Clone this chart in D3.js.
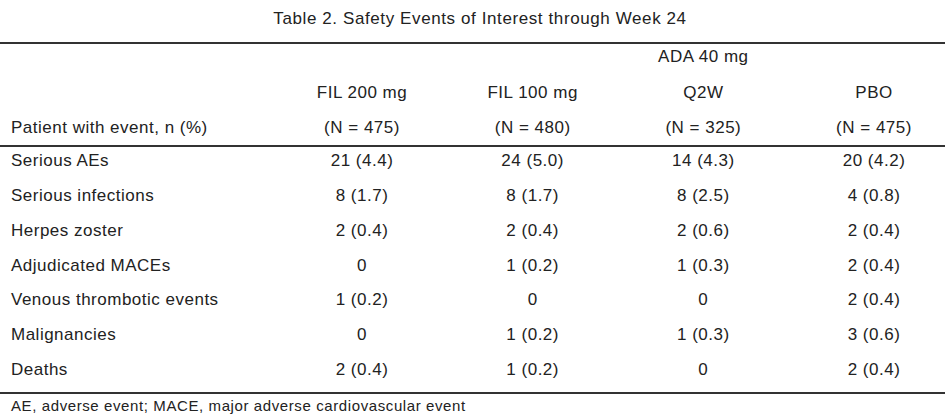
<!DOCTYPE html>
<html><head><meta charset="utf-8">
<script src="https://cdn.jsdelivr.net/npm/d3@7"></script>
<style>body{margin:0;background:#fff}text{font-family:"Liberation Sans",Arial,sans-serif;fill:#222}</style>
</head><body><svg id="chart" width="945" height="420"></svg>
<script>
// table data
var columns = ["FIL 200 mg", "FIL 100 mg", "Q2W", "PBO"];
var columnTop = ["", "", "ADA 40 mg", ""];
var columnN = ["(N = 475)", "(N = 480)", "(N = 325)", "(N = 475)"];
var events = ["Serious AEs", "Serious infections", "Herpes zoster", "Adjudicated MACEs",
  "Venous thrombotic events", "Malignancies", "Deaths"];
var fil200 = ["21 (4.4)", "8 (1.7)", "2 (0.4)", "0", "1 (0.2)", "0", "2 (0.4)"];
var fil100 = ["24 (5.0)", "8 (1.7)", "2 (0.4)", "1 (0.2)", "0", "1 (0.2)", "1 (0.2)"];
var ada40 = ["14 (4.3)", "8 (2.5)", "2 (0.6)", "1 (0.3)", "0", "1 (0.3)", "0"];
var pbo = ["20 (4.2)", "4 (0.8)", "2 (0.4)", "2 (0.4)", "2 (0.4)", "3 (0.6)", "2 (0.4)"];

var svg = d3.select("#chart");
var x = d3.scalePoint().domain(columns).range([362, 874]);
var y = d3.scalePoint().domain(events).range([160, 369]);

svg.append("text").attr("x", 480).attr("y", 24).attr("text-anchor", "middle")
  .style("font-size", "17px").style("letter-spacing", "0.6px")
  .text("Table 2. Safety Events of Interest through Week 24");

// rules
[43, 146, 393].forEach(function(yy) {
  svg.append("line").attr("x1", 0).attr("x2", 945).attr("y1", yy).attr("y2", yy)
    .attr("stroke", "#333").attr("stroke-width", 2);
});

var fs = "17px", ls = "0.5px";

// header
var hdr = svg.append("g").style("font-size", fs).style("letter-spacing", ls).attr("text-anchor", "middle");
columns.forEach(function(c, i) {
  hdr.append("text").attr("x", x(c)).attr("y", 62).text(columnTop[i]);
  hdr.append("text").attr("x", x(c)).attr("y", 98).text(c);
  hdr.append("text").attr("x", x(c)).attr("y", 133).text(columnN[i]);
});
svg.append("text").attr("x", 11).attr("y", 133).style("font-size", fs).style("letter-spacing", ls)
  .text("Patient with event, n (%)");

// body
var series = [fil200, fil100, ada40, pbo];
events.forEach(function(e, r) {
  svg.append("text").attr("x", 11).attr("y", y(e) + 6).style("font-size", fs).style("letter-spacing", ls).text(e);
  series.forEach(function(s, i) {
    svg.append("text").attr("x", x(columns[i])).attr("y", y(e) + 6)
      .attr("text-anchor", "middle").style("font-size", fs).style("letter-spacing", ls).text(s[r]);
  });
});

svg.append("text").attr("x", 11).attr("y", 411).style("font-size", "15px").style("letter-spacing", "0.6px")
  .text("AE, adverse event; MACE, major adverse cardiovascular event");
</script></body></html>
